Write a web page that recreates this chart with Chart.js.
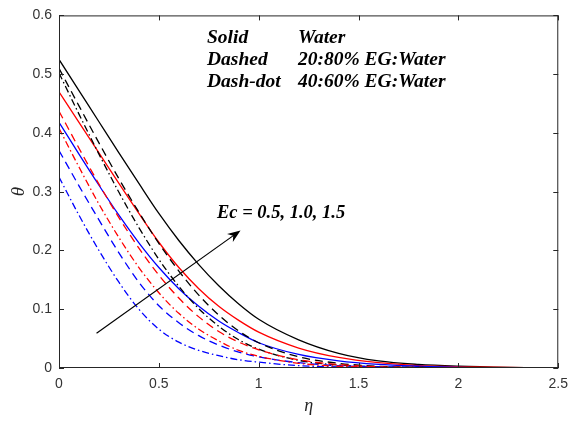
<!DOCTYPE html>
<html>
<head>
<meta charset="utf-8">
<script src="https://cdn.jsdelivr.net/npm/chart.js@4"></script>
<style>
  html, body { margin: 0; padding: 0; background: #fff; }
  #wrap { width: 576px; height: 421px; }
</style>
</head>
<body>
<div id="wrap"><canvas id="thetaChart" width="576" height="421"></canvas></div>
<script>
// eta grid shared by every curve
const eta = [0, 0.1, 0.2, 0.3, 0.4, 0.5, 0.6, 0.7, 0.8, 0.9, 1.0, 1.2, 1.4, 1.6, 1.8, 2.0, 2.25, 2.5];

// Water (solid)
const waterEc05 = [0.418, 0.364, 0.311, 0.260, 0.213, 0.171, 0.135, 0.105, 0.080, 0.060, 0.043, 0.023, 0.012, 0.006, 0.003, 0.001, 0.0005, 0];
const waterEc10 = [0.470, 0.418, 0.366, 0.314, 0.263, 0.214, 0.171, 0.135, 0.105, 0.081, 0.061, 0.034, 0.018, 0.009, 0.004, 0.002, 0.001, 0];
const waterEc15 = [0.525, 0.472, 0.419, 0.366, 0.314, 0.263, 0.217, 0.176, 0.140, 0.109, 0.083, 0.048, 0.025, 0.012, 0.006, 0.003, 0.001, 0];

// 20:80% EG:Water (dashed)
const eg20Ec05 = [0.370, 0.310, 0.252, 0.196, 0.146, 0.106, 0.077, 0.055, 0.039, 0.027, 0.019, 0.009, 0.004, 0.002, 0.001, 0, 0, 0];
const eg20Ec10 = [0.437, 0.374, 0.313, 0.256, 0.204, 0.158, 0.119, 0.087, 0.062, 0.044, 0.031, 0.014, 0.006, 0.002, 0.001, 0, 0, 0];
const eg20Ec15 = [0.510, 0.446, 0.383, 0.322, 0.265, 0.212, 0.165, 0.124, 0.090, 0.063, 0.043, 0.019, 0.008, 0.003, 0.001, 0, 0, 0];

// 40:60% EG:Water (dash-dot)
const eg40Ec05 = [0.325, 0.260, 0.200, 0.146, 0.100, 0.066, 0.044, 0.030, 0.021, 0.014, 0.010, 0.004, 0.002, 0.001, 0, 0, 0, 0];
const eg40Ec10 = [0.408, 0.342, 0.279, 0.222, 0.171, 0.128, 0.093, 0.066, 0.046, 0.030, 0.020, 0.008, 0.003, 0.001, 0, 0, 0, 0];
const eg40Ec15 = [0.502, 0.432, 0.364, 0.299, 0.239, 0.185, 0.139, 0.101, 0.071, 0.048, 0.032, 0.013, 0.005, 0.002, 0.001, 0, 0, 0];

const xTickLabels = ['0', '0.5', '1', '1.5', '2', '2.5'];
const yTickLabels = ['0', '0.1', '0.2', '0.3', '0.4', '0.5', '0.6'];

const legendRows = [['Solid', 'Water'], ['Dashed', '20:80% EG:Water'], ['Dash-dot', '40:60% EG:Water']];
const arrowLabel = 'Ec = 0.5, 1.0, 1.5';
const arrowFrom = [0.188, 0.059];  // data units
const arrowTo = [0.909, 0.234];

const dashed = [8, 5];
const dashDot = [7, 3, 1.5, 3];

function series(label, values, color, dash) {
    return {
        label: label,
        data: eta.map((e, i) => ({ x: e, y: values[i] })),
        borderColor: color,
        borderWidth: 1.3,
        borderDash: dash,
        pointRadius: 0,
        cubicInterpolationMode: 'monotone',
        fill: false
    };
}

// first dataset is drawn on top
const datasets = [
    series('20:80 Ec=1.0', eg20Ec10, '#ff0000', dashed),
    series('40:60 Ec=1.0', eg40Ec10, '#ff0000', dashDot),
    series('40:60 Ec=0.5', eg40Ec05, '#0000ff', dashDot),
    series('20:80 Ec=0.5', eg20Ec05, '#0000ff', dashed),
    series('40:60 Ec=1.5', eg40Ec15, '#000000', dashDot),
    series('20:80 Ec=1.5', eg20Ec15, '#000000', dashed),
    series('Water Ec=0.5', waterEc05, '#0000ff', []),
    series('Water Ec=1.0', waterEc10, '#ff0000', []),
    series('Water Ec=1.5', waterEc15, '#000000', [])
];

const framePlugin = {
    id: 'frame',
    afterDatasetsDraw(chart) {
        const { ctx, chartArea: a, scales: { x, y } } = chart;
        ctx.save();
        ctx.strokeStyle = '#262626';
        ctx.lineWidth = 1;
        ctx.setLineDash([]);
        ctx.strokeRect(a.left + 0.5, a.top + 0.5, a.right - a.left - 1, a.bottom - a.top - 1);
        ctx.beginPath();
        x.ticks.forEach(t => {
            const px = Math.round(x.getPixelForValue(t.value)) + 0.5;
            ctx.moveTo(px, a.bottom); ctx.lineTo(px, a.bottom - 5);
            ctx.moveTo(px, a.top); ctx.lineTo(px, a.top + 5);
        });
        y.ticks.forEach(t => {
            const py = Math.round(y.getPixelForValue(t.value)) + 0.5;
            ctx.moveTo(a.left, py); ctx.lineTo(a.left + 5, py);
            ctx.moveTo(a.right, py); ctx.lineTo(a.right - 5, py);
        });
        ctx.stroke();

        // arrow
        const x0 = x.getPixelForValue(arrowFrom[0]), y0 = y.getPixelForValue(arrowFrom[1]);
        const x1 = x.getPixelForValue(arrowTo[0]), y1 = y.getPixelForValue(arrowTo[1]);
        const ang = Math.atan2(y1 - y0, x1 - x0);
        ctx.strokeStyle = '#000';
        ctx.lineWidth = 1.2;
        ctx.beginPath();
        ctx.moveTo(x0, y0);
        ctx.lineTo(x1 - 8 * Math.cos(ang), y1 - 8 * Math.sin(ang));
        ctx.stroke();
        ctx.fillStyle = '#000';
        ctx.beginPath();
        ctx.moveTo(x1, y1);
        ctx.lineTo(x1 - 13 * Math.cos(ang) + 5 * Math.sin(ang), y1 - 13 * Math.sin(ang) - 5 * Math.cos(ang));
        ctx.lineTo(x1 - 9 * Math.cos(ang), y1 - 9 * Math.sin(ang));
        ctx.lineTo(x1 - 13 * Math.cos(ang) - 5 * Math.sin(ang), y1 - 13 * Math.sin(ang) + 5 * Math.cos(ang));
        ctx.closePath();
        ctx.fill();

        // texts
        ctx.font = 'italic bold 19.5px "Liberation Serif", "Times New Roman", serif';
        ctx.textBaseline = 'alphabetic';
        ctx.textAlign = 'left';
        legendRows.forEach((row, i) => {
            const by = 43 + i * 22;
            ctx.fillText(row[0], 207, by);
            ctx.fillText(row[1], 298, by);
        });
        ctx.font = 'italic bold 18.5px "Liberation Serif", "Times New Roman", serif';
        ctx.fillText(arrowLabel, 217, 218);
        ctx.restore();
    }
};

new Chart(document.getElementById('thetaChart'), {
    type: 'line',
    data: { datasets },
    options: {
        responsive: false,
        animation: false,
        layout: { padding: { left: 0, top: 14, right: 11, bottom: 0 } },
        plugins: { legend: { display: false }, tooltip: { enabled: false } },
        scales: {
            x: {
                type: 'linear',
                min: 0,
                max: 2.5,
                afterFit: s => { s.height = 53; },
                grid: { display: false, drawTicks: false },
                border: { display: false },
                ticks: {
                    stepSize: 0.5,
                    padding: 8,
                    color: '#333',
                    font: { family: '"Liberation Sans", Arial, sans-serif', size: 14 },
                    maxRotation: 0,
                    callback: (v, i) => xTickLabels[i]
                },
                title: {
                    display: true,
                    text: 'η',
                    color: '#262626',
                    padding: { top: 0, bottom: 4 },
                    font: { family: '"Liberation Serif", "Times New Roman", serif', size: 18, style: 'italic' }
                }
            },
            y: {
                min: 0,
                max: 0.6,
                afterFit: s => { s.width = 59; },
                grid: { display: false, drawTicks: false },
                border: { display: false },
                ticks: {
                    stepSize: 0.1,
                    padding: 7,
                    color: '#333',
                    font: { family: '"Liberation Sans", Arial, sans-serif', size: 14 },
                    callback: (v, i) => yTickLabels[i]
                },
                title: {
                    display: true,
                    text: 'θ',
                    color: '#262626',
                    padding: { top: 8, bottom: 0 },
                    font: { family: '"Liberation Serif", "Times New Roman", serif', size: 19, style: 'italic' }
                }
            }
        }
    },
    plugins: [framePlugin]
});
</script>
</body>
</html>
